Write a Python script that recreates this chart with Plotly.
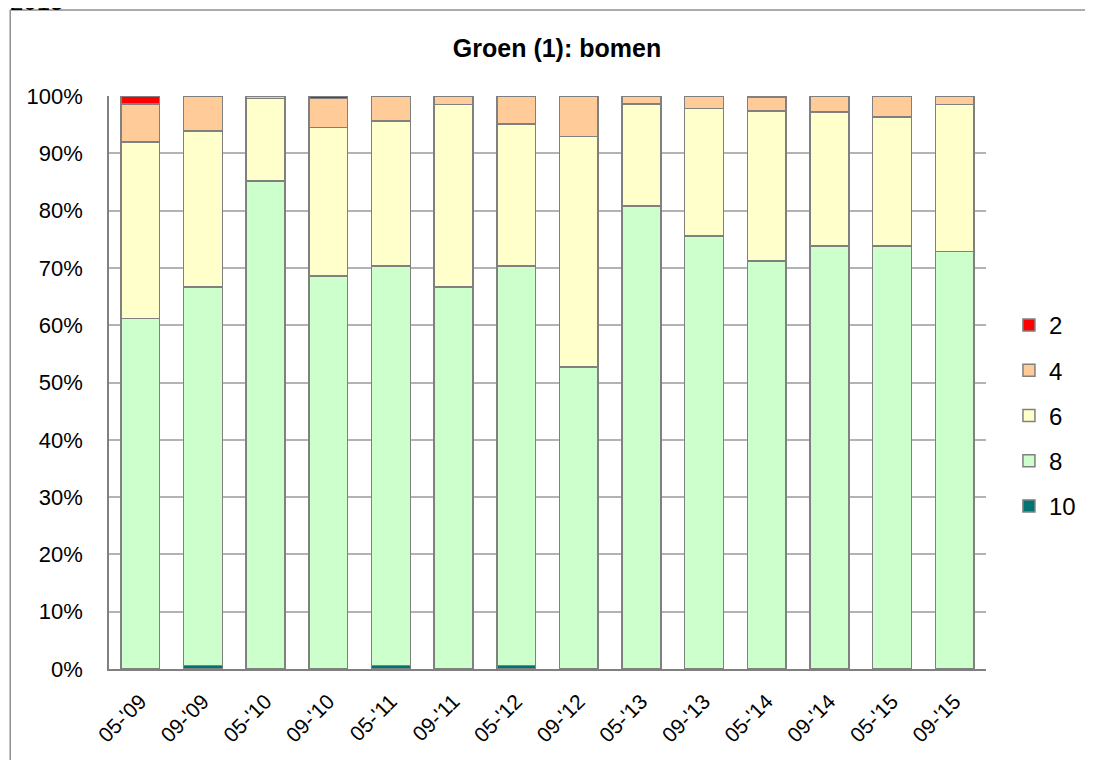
import plotly.graph_objects as go

categories = ["05-'09", "09-'09", "05-'10", "09-'10", "05-'11", "09-'11", "05-'12",
              "09-'12", "05-'13", "09-'13", "05-'14", "09-'14", "05-'15", "09-'15"]

s10 = [0.0, 0.6, 0.0, 0.0, 0.6, 0.0, 0.6, 0.0, 0.0, 0.0, 0.0, 0.0, 0.0, 0.0]
s8 = [61.2, 66.1, 85.2, 68.6, 69.7, 66.7, 69.7, 52.7, 80.8, 75.6, 71.2, 73.8, 73.8, 72.9]
s6 = [30.8, 27.2, 14.4, 25.9, 25.3, 31.8, 24.8, 40.2, 17.8, 22.2, 26.2, 23.4, 22.5, 25.6]
s4 = [6.6, 6.1, 0.4, 5.1, 4.4, 1.5, 4.9, 7.1, 1.4, 2.2, 2.3, 2.8, 3.7, 1.5]
s2 = [1.4, 0.0, 0.0, 0.4, 0.0, 0.0, 0.0, 0.0, 0.0, 0.0, 0.3, 0.0, 0.0, 0.0]

series = [("10", s10, "#007373"), ("8", s8, "#CCFFCC"), ("6", s6, "#FFFFCC"),
          ("4", s4, "#FFCC99"), ("2", s2, "#FF0000")]

fig = go.Figure()
for i, (name, vals, color) in enumerate(series):
    fig.add_trace(go.Bar(
        x=categories, y=vals, name=name, legendgroup=name,
        legendrank=len(series) - i,
        marker=dict(color=color, line=dict(color="#808080", width=1.5)),
    ))

FONT = "Liberation Sans, Arial, sans-serif"
# page offset of the figure inside the html body is 8px
W, H = 1085, 752
L, T = 101, 88
PW, PH = 879, 573


def px(xp):
    return (xp - 109) / PW


def py(yp):
    return (669 - yp) / PH


fig.update_layout(
    width=W, height=H, autosize=False,
    margin=dict(l=L, r=W - L - PW, t=T, b=H - T - PH),
    barmode="stack", bargap=0.38,
    plot_bgcolor="white", paper_bgcolor="white",
    font=dict(family=FONT, color="black", size=22),
    title=dict(text="<b>Groen (1): bomen</b>", x=549 / W, xanchor="center", xref="container",
               y=1 - 40 / H, yanchor="middle", font=dict(size=25, family=FONT)),
    xaxis=dict(showgrid=False, showline=True, linecolor="#808080", linewidth=1.5,
               tickangle=-45, tickfont=dict(size=21), ticks="", range=[-0.5, 13.5],
               automargin=False, ticklabelstandoff=10),
    yaxis=dict(range=[0, 100], dtick=10, ticksuffix="%", showgrid=True,
               gridcolor="#b3b3b3", gridwidth=1.5, showline=True, linecolor="#808080",
               linewidth=1.5, ticks="", tickfont=dict(size=22), zeroline=False,
               automargin=False, ticklabelstandoff=20),
    legend=dict(x=px(1011), y=py(303), xanchor="left", yanchor="top",
                traceorder="grouped", tracegroupgap=11,
                font=dict(size=24), itemwidth=30),
    showlegend=True,
)

# outer chart frame (partly clipped in the reference)
fig.add_shape(type="line", xref="paper", yref="paper",
              x0=px(10), x1=px(1110), y0=py(10), y1=py(10),
              line=dict(color="#909090", width=1.5))
fig.add_shape(type="line", xref="paper", yref="paper",
              x0=px(10), x1=px(10), y0=py(10), y1=py(780),
              line=dict(color="#909090", width=1.5))

fig.add_annotation(text="2015", xref="paper", yref="paper",
                   x=px(8), y=py(17), xanchor="left", yanchor="bottom",
                   showarrow=False, font=dict(size=24, family=FONT))

fig.write_html("out.html")
